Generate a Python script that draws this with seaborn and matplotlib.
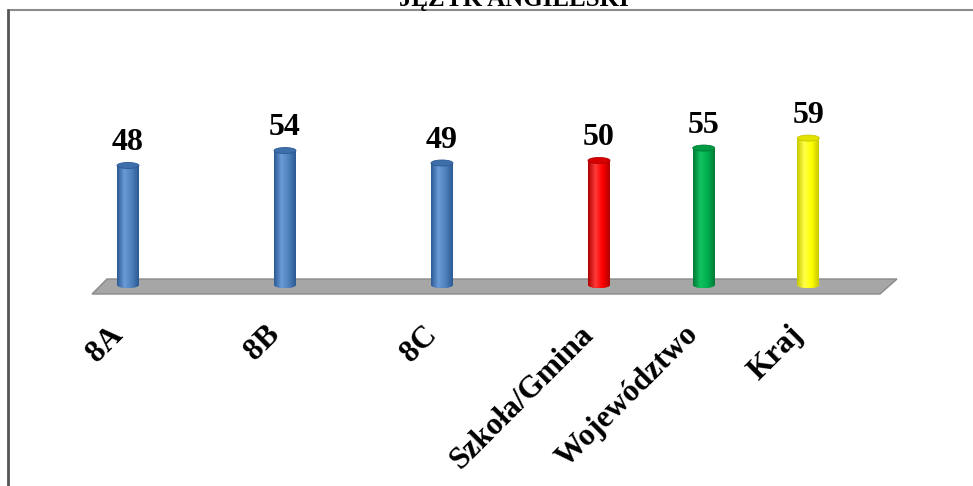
import numpy as np
import pandas as pd
import matplotlib
matplotlib.use("Agg")
import matplotlib.pyplot as plt
from matplotlib.colors import LinearSegmentedColormap
from matplotlib.patches import Ellipse, Polygon
from matplotlib.lines import Line2D
from matplotlib.transforms import ScaledTranslation
import seaborn as sns

# ---- data ----
title = "JĘZYK ANGIELSKI"
categories = ["8A", "8B", "8C", "Szkoła/Gmina", "Województwo", "Kraj"]
values = [48, 54, 49, 50, 55, 59]

# ---- layout / style ----
positions = [0, 1, 2, 3, 3.667, 4.333]
bar_colors = ["#4F81BD", "#4F81BD", "#4F81BD", "#FF0000", "#00B050", "#FFFF00"]
shades = {
    "#4F81BD": ("#2C5A93", "#6A9BD8", "#3E6FAA"),
    "#FF0000": ("#B00000", "#FF3A3A", "#D80000"),
    "#00B050": ("#007A36", "#12C25F", "#009A45"),
    "#FFFF00": ("#C8C800", "#FFFF4A", "#E2E200"),
}

sns.set_theme(style="white")
plt.rcParams["font.family"] = ["Liberation Serif", "DejaVu Serif"]

W, H = 973, 486
fig = plt.figure(figsize=(W / 100, H / 100), dpi=100)
fig.patch.set_facecolor("white")

# axes occupies px rows 20..300 from top, full width
ax = fig.add_axes([0, (H - 300) / H, 1, 280 / H])
ax.set_facecolor("none")

px_per_unit_x = 157.0
px_per_unit_y = 2.49
x0_px = 128.0
zero_above_bottom = 15
ax_xlim = (-x0_px / px_per_unit_x, (W - x0_px) / px_per_unit_x)
ax_ylim = (-zero_above_bottom / px_per_unit_y, (280 - zero_above_bottom) / px_per_unit_y)

df = pd.DataFrame({"kategoria": categories, "wynik": values, "pos": positions})
sns.barplot(
    data=df, x="pos", y="wynik", hue="kategoria",
    palette=dict(zip(categories, bar_colors)),
    native_scale=True, dodge=False, width=0.21, legend=False,
    saturation=1, ax=ax, zorder=3,
)

bars = list(ax.patches)

# floor plane (decoration under bars)
fl = min(positions) - 0.229
fr = max(positions) + 0.457
ftop = 6 / px_per_unit_y
fbot = -9 / px_per_unit_y
floor = Polygon(
    [(fl + 0.095, ftop), (fr + 0.108, ftop), (fr, fbot), (fl, fbot)],
    closed=True, facecolor="#A6A6A6", edgecolor="#8A8A8A", lw=1.0, zorder=1,
)
ax.add_patch(floor)

ell_h = 6 / px_per_unit_y
for patch, col in zip(bars, bar_colors):
    dark, light, cap = shades[col]
    x = patch.get_x(); w = patch.get_width(); h = patch.get_height()
    patch.set_edgecolor("none")
    cmap = LinearSegmentedColormap.from_list("c", [dark, light, col, dark])
    grad = np.linspace(0, 1, 64)[None, :]
    im = ax.imshow(grad, extent=[x, x + w, 0, h], aspect="auto", cmap=cmap,
                   zorder=3.1, interpolation="bilinear")
    im.set_clip_path(patch)
    # bottom rounding
    ax.add_patch(Ellipse((x + w / 2, 0), w, ell_h, facecolor=col,
                         edgecolor="none", zorder=3.05))
    imb = ax.imshow(grad, extent=[x, x + w, -ell_h / 2, 0], aspect="auto",
                    cmap=cmap, zorder=3.06, interpolation="bilinear")
    imb.set_clip_path(Ellipse((x + w / 2, 0), w, ell_h, transform=ax.transData))
    # top cap
    ax.add_patch(Ellipse((x + w / 2, h), w, ell_h, facecolor=cap,
                         edgecolor=dark, lw=0.6, zorder=3.2))

for c in ax.containers:
    ax.bar_label(c, fmt="%d", padding=6, fontsize=23, fontweight="bold",
                 color="black", family=["Liberation Serif"])

ax.set_xlim(*ax_xlim)
ax.set_ylim(*ax_ylim)
ax.set_xticks(positions)
ax.set_xticklabels(categories, rotation=45, ha="right", rotation_mode="anchor",
                   fontsize=22.5, fontweight="bold", color="black")
ax.tick_params(axis="x", length=0, pad=16)
shift = ScaledTranslation(-20 / 100, 2 / 100, fig.dpi_scale_trans)
for lab in ax.get_xticklabels():
    lab.set_transform(lab.get_transform() + shift)
ax.set_yticks([])
ax.set_xlabel("")
ax.set_ylabel("")
for s in ax.spines.values():
    s.set_visible(False)

# chart frame and clipped title
fig.add_artist(Line2D([8 / W, 1], [1 - 10 / H, 1 - 10 / H], transform=fig.transFigure,
                      color="#8C8C8C", lw=1.5))
fig.add_artist(Line2D([8 / W, 8 / W], [0, 1 - 10 / H], transform=fig.transFigure,
                      color="#555555", lw=2.0))
fig.text(514 / W, 1 - 6 / H, title, ha="center", va="baseline", fontsize=18,
         fontweight="bold", color="black")

fig.savefig("out.png", dpi=100)
